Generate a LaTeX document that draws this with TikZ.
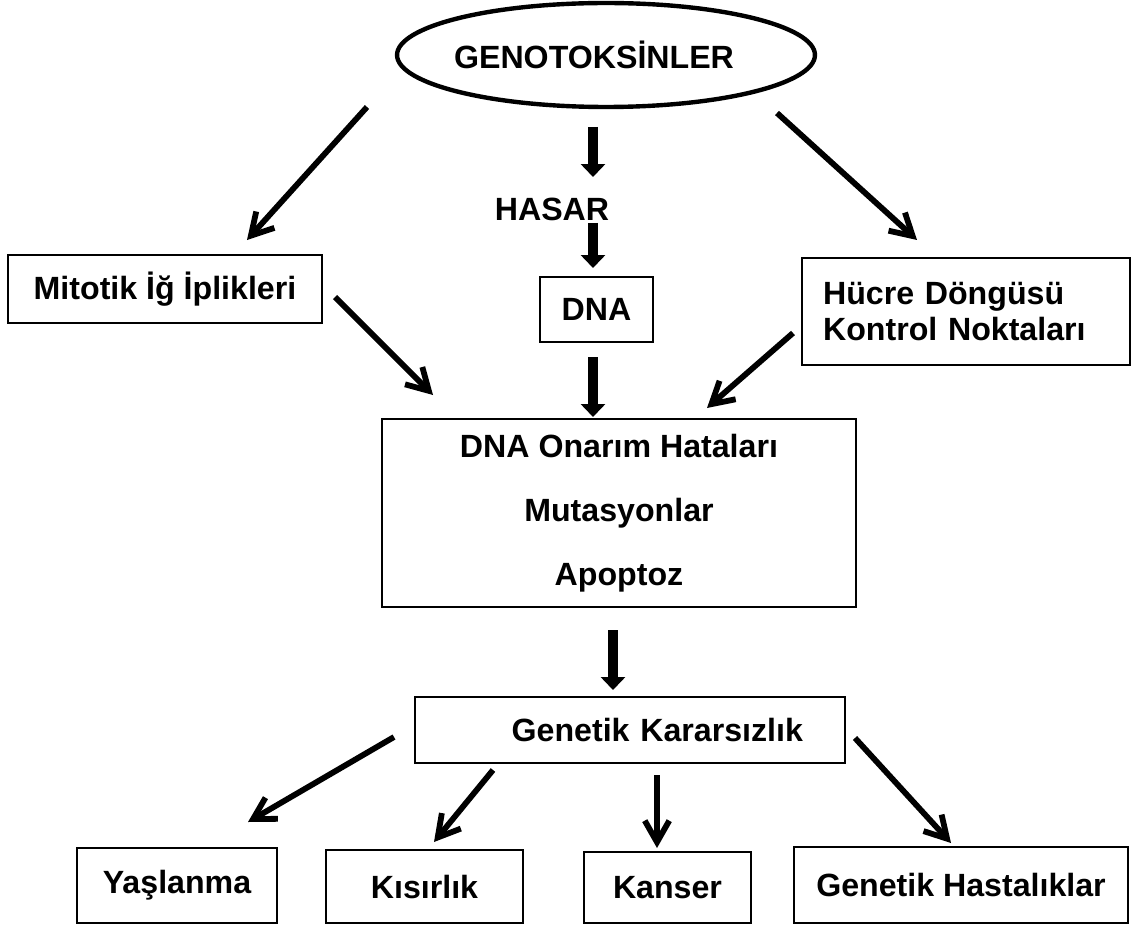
\documentclass[tikz,border=0pt]{standalone}
\usepackage{fontspec}
\setmainfont{Liberation Sans}
\usetikzlibrary{arrows.meta,shapes.geometric}
\tikzset{
  box/.style={draw, line width=1.1pt, inner sep=0pt, font=\bfseries\fontsize{18.3}{20}\selectfont},
  thinarrow/.style={line width=3.3pt, -{Straight Barb[length=4.3mm,width=4.9mm]}},
  fatarrow/.style={line width=5.5pt, -{Triangle[length=2.6mm,width=4.8mm]}}
}
\begin{document}
\begin{tikzpicture}[x=0.02cm, y=-0.02cm]
        \useasboundingbox (0,0) rectangle (1132,929);

        %Genotoksinler
        \node [ellipse, draw, line width=2.5pt, minimum width=8.36cm, minimum height=2.08cm,
               font=\bfseries\fontsize{18.3}{20}\selectfont] (geno) at (606,55) {\hspace*{-0.48cm}GENOTOKSİNLER};
        \node [font=\bfseries\fontsize{18.3}{20}\selectfont] (hasar) at (552,209) {HASAR};

        %Upper row
        \node [box, minimum width=6.28cm, minimum height=1.36cm] (mitotik) at (165,289) {Mitotik İğ İplikleri};
        \node [box, minimum width=2.26cm, minimum height=1.3cm]  (dna)     at (596.5,309.5) {DNA};
        \node [box, text width=5.72cm, inner xsep=0.42cm, align=left, minimum height=2.14cm]
              (hucre) at (966,311.5) {Hücre Döngüsü\\Kontrol Noktaları};

        %Middle box
        \node [box, minimum width=9.48cm, minimum height=3.76cm, align=center,
               font=\bfseries\fontsize{18.3}{36.4}\selectfont]
              (hata) at (619,513) {DNA Onarım Hataları\\Mutasyonlar\\Apoptoz};
        \node [box, text width=6.92cm, inner xsep=0.84cm, align=right, minimum height=1.32cm]
              (kararsiz) at (630,730) {Genetik Kararsızlık};

        %Lower row
        \node [box, minimum width=4cm,    minimum height=1.5cm]  (yas)      at (177,885.5) {Yaşlanma};
        \node [box, minimum width=3.94cm, minimum height=1.46cm] (kisir)    at (424.5,886.5) {Kısırlık};
        \node [box, minimum width=3.34cm, minimum height=1.42cm] (kanser)   at (667.5,887.5) {Kanser};
        \node [box, minimum width=6.68cm, minimum height=1.52cm] (hastalik) at (961,885) {Genetik Hastalıklar};

        %Arrow ends
        \coordinate (genoL)  at (367,107);  \coordinate (mitotikT) at (247,240);
        \coordinate (genoR)  at (777,113);  \coordinate (hucreT)   at (917,240);
        \coordinate (genoB)  at (593,127);  \coordinate (hasarT)   at (593,177);
        \coordinate (hasarB) at (593,223);  \coordinate (dnaT)     at (593,268);
        \coordinate (dnaB)   at (593,357);  \coordinate (hataT)    at (593,417);
        \coordinate (mitotikR) at (335,297); \coordinate (hataL)   at (433,395);
        \coordinate (hucreL) at (793,333);  \coordinate (hataR)    at (707,408);
        \coordinate (hataB)  at (613,630);  \coordinate (kararsizT) at (613,690);
        \coordinate (kL)  at (394,737);     \coordinate (yasT)      at (248,822);
        \coordinate (kB1) at (493,770);     \coordinate (kisirT)    at (434,842);
        \coordinate (kB2) at (657,775);     \coordinate (kanserT)   at (657,848);
        \coordinate (kR)  at (855,738);     \coordinate (hastalikT) at (951,843);

        %Arrows
        \draw [thinarrow] (genoL) -- (mitotikT);
        \draw [thinarrow] (genoR) -- (hucreT);
        \draw [fatarrow]  (genoB) -- (hasarT);
        \draw [fatarrow]  (hasarB) -- (dnaT);
        \draw [fatarrow]  (dnaB) -- (hataT);
        \draw [thinarrow] (mitotikR) -- (hataL);
        \draw [thinarrow] (hucreL) -- (hataR);
        \draw [fatarrow]  (hataB) -- (kararsizT);
        \draw [thinarrow] (kL) -- (yasT);
        \draw [thinarrow] (kB1) -- (kisirT);
        \draw [thinarrow] (kB2) -- (kanserT);
        \draw [thinarrow] (kR) -- (hastalikT);

\end{tikzpicture}
\end{document}
